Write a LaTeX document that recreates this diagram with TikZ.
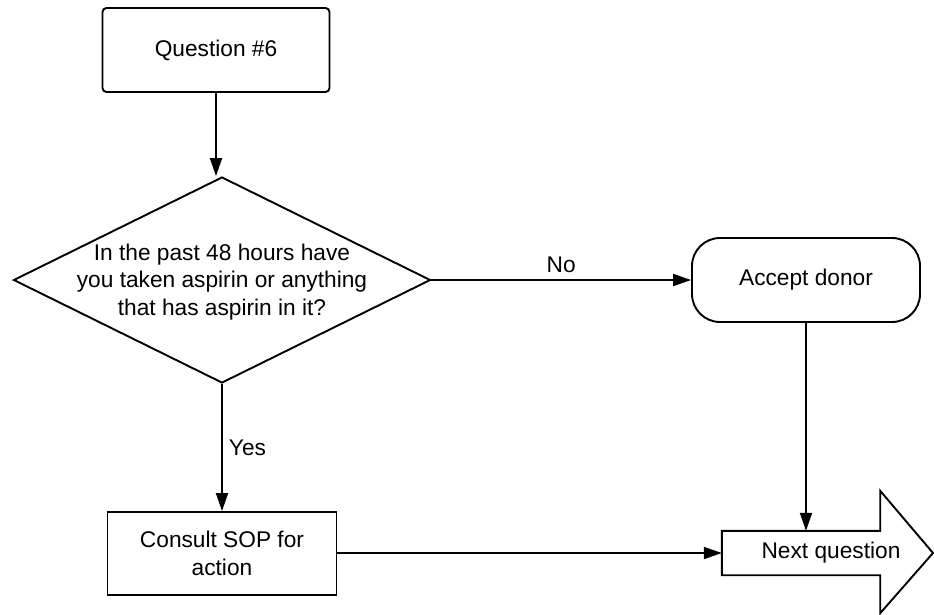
\documentclass[tikz,border=0pt]{standalone}
\usepackage{fontspec}
\setmainfont{Liberation Sans}
\usetikzlibrary{arrows.meta,shapes.geometric,calc}
\begin{document}
\begin{tikzpicture}[x=1pt,y=-1pt,
  every node/.style={font=\fontsize{22.7}{27.7}\selectfont, inner sep=0pt},
  line/.style={line width=1.9pt},
  flow/.style={line, -{Triangle[length=18pt,width=12pt]}},
  startbox/.style={draw, line, rounded corners=4pt, minimum width=227pt, minimum height=84pt},
  decision/.style={draw, line, diamond, minimum width=417pt, minimum height=206pt},
  terminal/.style={draw, line, rounded corners=28pt, minimum width=228pt, minimum height=84pt},
  process/.style={draw, line, minimum width=229pt, minimum height=83pt, align=center},
  lbl/.style={font=\fontsize{22.7}{27.7}\selectfont}
]
\useasboundingbox (0,0) rectangle (934,614);

% boxes
\node[startbox] (q) at (216,50) {Question \#6};
\node[decision] (d) at (222,280) {};
\node[align=center] (dtext) at ($(d.center)+(0,2)$) {In the past 48 hours have\\you taken aspirin or anything\\that has aspirin in it?};
\node[terminal] (acc) at (806,280) {Accept donor};
\node[process] (sop) at (222,553.5) {Consult SOP for\\action};

% block arrow for the next question
\node[minimum width=158pt, minimum height=44pt] (nq) at (801,553) {};
\coordinate (tip) at (933,553);
\draw[line, line join=miter]
  (nq.north west) -- (nq.north east) -- ++(0,-40) -- (tip)
  -- ($(nq.south east)+(0,38)$) -- (nq.south east) -- (nq.south west) -- cycle;
\node (nqtext) at (831,553) {Next question};

% connectors
\draw[flow] (q.south) -- (q.south |- d.north);
\draw[flow] (d.east) -- node[above=6pt, lbl] (no) {No} (acc.west);
\draw[flow] (d.south) -- node[pos=0.5, right=6pt, lbl] (yes) {Yes} (d.south |- sop.north);
\draw[flow] (acc.south) -- (acc.south |- nq.north);
\draw[flow] (sop.east |- nq.west) -- (nq.west);
\end{tikzpicture}
\end{document}
